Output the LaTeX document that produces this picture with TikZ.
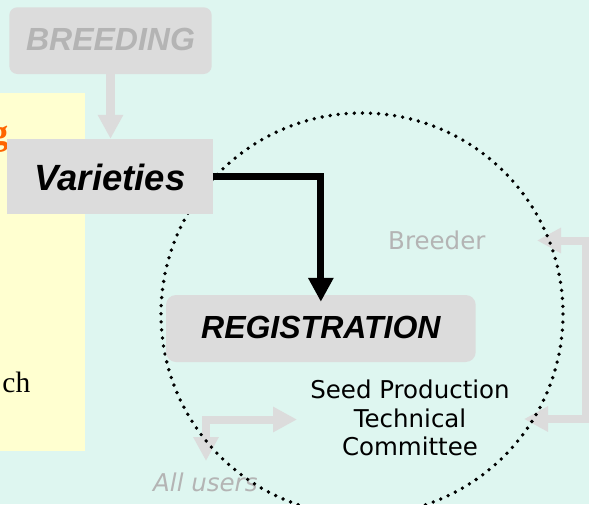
\documentclass[tikz,border=0pt]{standalone}
\usepackage{fontspec}
\setmainfont{Liberation Sans}
\newfontfamily\serifface{Liberation Serif}
\newfontfamily\handface{DejaVu Sans}
\usetikzlibrary{arrows.meta}

\definecolor{bgmint}{RGB}{222,246,240}
\definecolor{panelyellow}{RGB}{255,255,208}
\definecolor{boxgrey}{RGB}{220,220,220}
\definecolor{fadedtext}{RGB}{180,180,180}
\definecolor{titleorange}{RGB}{255,102,0}

\begin{document}
\begin{tikzpicture}[x=1pt,y=-1pt,
  stagebox/.style={fill=boxgrey, draw=none, inner xsep=0pt, inner ysep=0pt},
  headline/.style={font=\bfseries\itshape\fontsize{32}{38}\selectfont},
  handtext/.style={font=\handface\fontsize{24.5}{28.7}\selectfont, inner sep=0pt},
  fadedflow/.style={draw=boxgrey, line width=8.5pt, line join=miter,
    -{Triangle[width=24pt,length=24pt]}},
  fadedpair/.style={draw=boxgrey, line width=8pt, line join=miter,
    {Triangle[width=24pt,length=24pt]}-{Triangle[width=24pt,length=24pt]}},
  mainflow/.style={draw=black, line width=7pt, line join=miter,
    -{Triangle[width=24pt,length=24pt]}},
  dotring/.style={draw=black, line width=3.8pt, line cap=round,
    dash pattern=on 0pt off 8.1pt}
]
\useasboundingbox (0,0) rectangle (589,504);
\clip (0,0) rectangle (589,504);
\fill[bgmint] (0,0) rectangle (589,504);

% side panel with the cut-off slide text
\fill[panelyellow] (-5,93) rectangle (85,451);
\node[font=\serifface\bfseries\fontsize{36}{40}\selectfont, text=titleorange,
  anchor=base east, inner sep=0pt] (titletail) at (8.5,144) {g};
\node[font=\serifface\fontsize{29.5}{34}\selectfont,
  anchor=base east, inner sep=0pt] (bodytail) at (30.5,392) {ch};

% faded side flows
\coordinate (brTop) at (537,240.5);
\coordinate (brBot) at (524,419);
\draw[fadedpair] (brTop) -- ++(48.5,0) |- (brBot);
\coordinate (luTip) at (297,419.5);
\coordinate (ldTip) at (206,461);
\draw[fadedpair] (luTip) -| (ldTip);

\node[handtext, text=fadedtext, anchor=base west] (breeder) at (388,249.3) {Breeder};
\node[handtext, text=fadedtext, anchor=base west, font=\handface\itshape\fontsize{24.5}{28.7}\selectfont]
  (allusers) at (153,491) {All users};

% dotted scope of the registration process
\draw[dotring] (362,314) circle[radius=201];

% stages
\node[stagebox, rounded corners=8pt, minimum width=202.4pt,
  text height=42.7pt, text depth=24pt, anchor=base, headline, text=fadedtext]
  (breeding) at (110.5,50) {BREEDING};
\node[stagebox, minimum width=205.4pt, text height=51pt, text depth=24pt,
  anchor=base, font=\bfseries\itshape\fontsize{36.5}{42}\selectfont]
  (varieties) at (110,190) {Varieties};
\node[stagebox, rounded corners=10pt, minimum width=309.7pt,
  text height=43pt, text depth=24pt, anchor=base, headline]
  (registration) at (320.85,338) {REGISTRATION};

\draw[fadedflow, line width=9pt] (breeding.south) -- (breeding.south |- varieties.north);
\draw[mainflow, shorten >=-7pt] (varieties.east) -| (registration.north);

% the base anchor of this three-line node sits on its last line
\node[handtext, align=center, anchor=base] (committee) at (410,455.7)
  {Seed Production\\Technical\\Committee};
\end{tikzpicture}
\end{document}
